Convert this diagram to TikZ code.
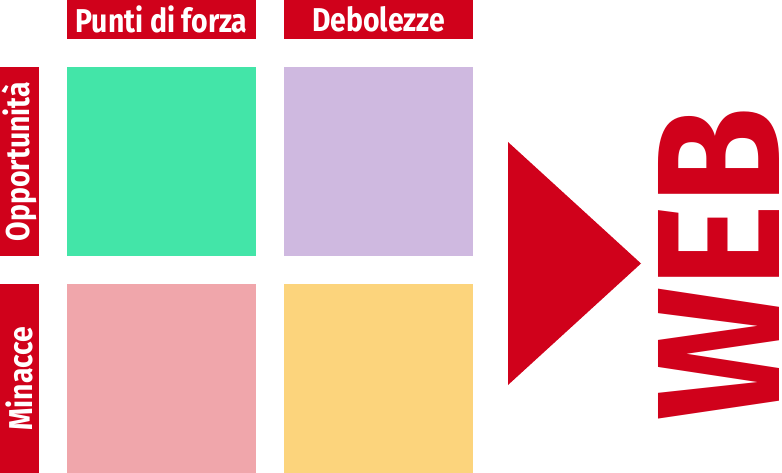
\documentclass[tikz,border=0pt]{standalone}
\usepackage{fontspec}
\setsansfont{Fira Sans}
\usetikzlibrary{positioning}
\definecolor{swotred}{HTML}{D0011B}
\definecolor{swotgreen}{HTML}{43E5A8}
\definecolor{swotpurple}{HTML}{CFB9E0}
\definecolor{swotpink}{HTML}{F0A6AB}
\definecolor{swotyellow}{HTML}{FCD47C}
\tikzset{every picture/.style={/utils/exec={\sffamily}}}

\begin{document}
\begin{tikzpicture}[x=1pt, y=-1pt,
  quad/.style={minimum width=189pt, minimum height=189pt, inner sep=0pt, outer sep=0pt},
  head/.style={fill=swotred, text=white, font=\bfseries\fontsize{33}{33}\selectfont,
    minimum width=189pt, minimum height=39pt, inner sep=0pt, outer sep=0pt}
  ]
  \useasboundingbox (0,0) rectangle (782,473);

  % the four quadrants
  \node [quad, fill=swotgreen, anchor=north west] (forza) at (67,67) {};
  \node [quad, fill=swotpurple, right=28pt of forza] (debol) {};
  \node [quad, fill=swotpink, below=28pt of forza] (minac) {};
  \node [quad, fill=swotyellow, below=28pt of debol] (oppor) {};

  % headings
  \node [head, above=28pt of forza] (hforza) {\scalebox{0.86}[1]{Punti di forza}};
  \node [head, above=28pt of debol] (hdebol) {\scalebox{0.86}[1]{Debolezze}};
  \node [head, rotate=90] (hoppor) at (19.5,161.5) {\scalebox{0.86}[1]{Opportunità}};
  \node [head, rotate=90] (hminac) at (19.5,378.5) {\scalebox{0.86}[1]{Minacce}};

  % arrow and web
  \fill [swotred] (508,142) -- (641,263.5) -- (508,385) -- cycle;
  \node [text=swotred, rotate=90, inner sep=0pt, font=\bfseries] (web) at (719,264)
    {\resizebox{312pt}{121pt}{WEB}};
\end{tikzpicture}
\end{document}
